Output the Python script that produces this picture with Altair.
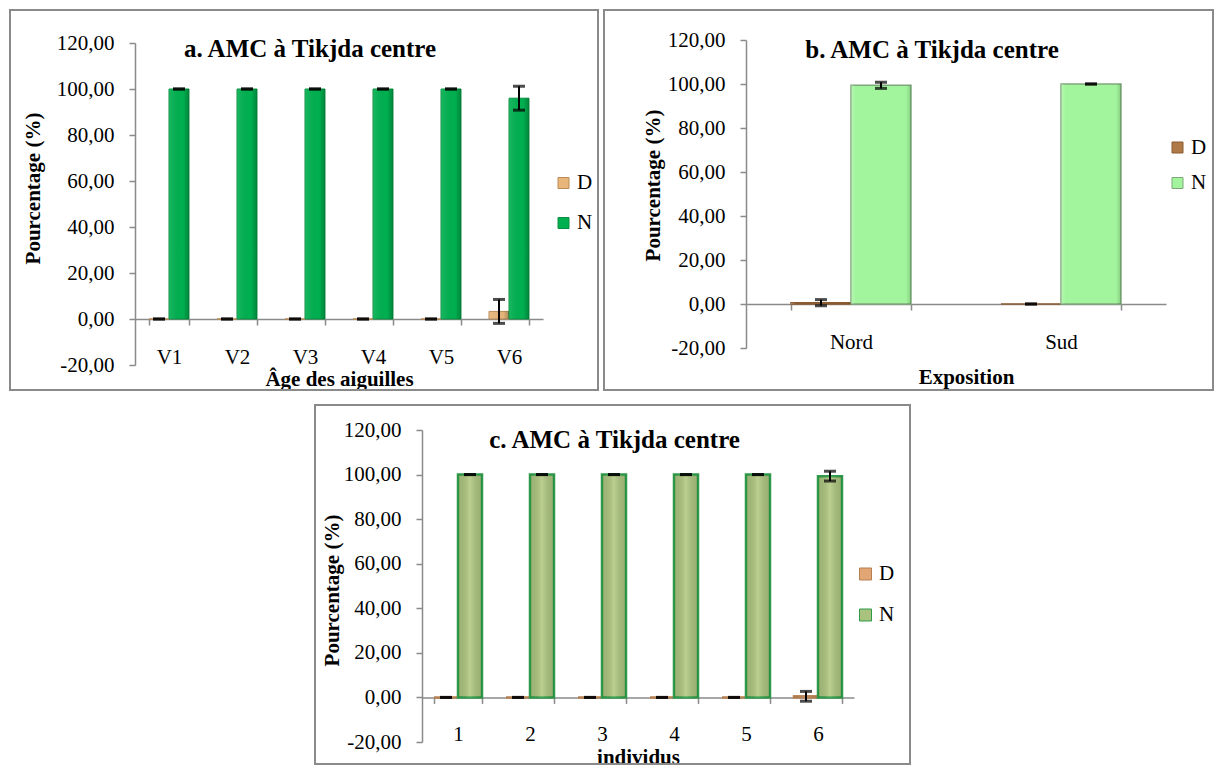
import altair as alt
import pandas as pd

FONT = "Liberation Serif"
GRAY = "#8a8a8a"
SERIES = ["D", "N"]
TICKS_Y = [-20, 0, 20, 40, 60, 80, 100, 120]

# ---- panel a : age of needles
cats_a = ["V1", "V2", "V3", "V4", "V5", "V6"]
d_a = [0, 0, 0, 0, 0, 3.3]
d_a_err = [0, 0, 0, 0, 0, 5.2]
n_a = [100, 100, 100, 100, 100, 96.0]
n_a_err = [0, 0, 0, 0, 0, 5.2]

# ---- panel b : exposition
cats_b = ["Nord", "Sud"]
d_b = [0.6, 0]
d_b_err = [1.4, 0]
n_b = [99.4, 100]
n_b_err = [1.4, 0]

# ---- panel c : individuals
cats_c = ["1", "2", "3", "4", "5", "6"]
d_c = [0, 0, 0, 0, 0, 0.5]
d_c_err = [0, 0, 0, 0, 0, 2.2]
n_c = [100, 100, 100, 100, 100, 99.3]
n_c_err = [0, 0, 0, 0, 0, 2.2]

TITLE = "AMC à Tikjda centre"
LABEL_EXPR = "(datum.value < 0 ? '-' : '') + replace(format(abs(datum.value), '.2f'), '.', ',')"


def long_df(key, cats, d, de, n, ne):
    rows = []
    for i, c in enumerate(cats):
        rows.append({"cat" + key: c, "s" + key: "D", "value": d[i], "err": de[i]})
        rows.append({"cat" + key: c, "s" + key: "N", "value": n[i], "err": ne[i]})
    df = pd.DataFrame(rows)
    df["lo"] = df["value"] - df["err"]
    df["hi"] = df["value"] + df["err"]
    return df


def panel(key, cats, df, W, Hg, ytop, L, T, R, B, pin, title, tx, ty, xtitle, xtx, xty,
          ytx, yty, lx, ly, rowpad, symsize, fills, strokes, sw, grad, lpad=21, extra=0):
    off = -(Hg - ytop) / 7.0
    catf = "cat" + key + ":N"
    serf = "s" + key + ":N"
    x = alt.X(catf, sort=cats,
              scale=alt.Scale(domain=cats, paddingInner=pin, paddingOuter=pin / 2),
              axis=alt.Axis(title=xtitle, orient="bottom", offset=off,
                            tickBand="extent", labelAngle=0, grid=False,
                            labelFont=FONT, labelFontSize=21, labelColor="black",
                            labelPadding=lpad, tickSize=6, tickColor=GRAY, tickWidth=1.5,
                            domainColor=GRAY, domainWidth=1.5,
                            titleFont=FONT, titleFontSize=21, titleFontWeight="bold",
                            titleColor="black", titleX=xtx, titleY=xty,
                            titleBaseline="alphabetic"))
    xo = alt.XOffset(serf, scale=alt.Scale(domain=SERIES, paddingInner=0, paddingOuter=0))
    if ytop != 0:
        yscale = alt.Scale(domain=[-20, 120], nice=False, zero=False, range=[Hg, ytop])
    else:
        yscale = alt.Scale(domain=[-20, 120], nice=False, zero=False)
    yaxis = alt.Axis(values=TICKS_Y, labelExpr=LABEL_EXPR, grid=False,
                     title="Pourcentage (%)", labelFont=FONT, labelFontSize=21,
                     labelColor="black", labelPadding=15, tickSize=6, tickColor=GRAY,
                     tickWidth=1.5, domainColor=GRAY, domainWidth=1.5,
                     titleFont=FONT, titleFontSize=21, titleFontWeight="bold",
                     titleColor="black", titleX=ytx, titleY=yty, titleBaseline="middle")

    def Y(field):
        return alt.Y(field, stack=False, scale=yscale, axis=yaxis)

    leg = alt.Legend(title=None, orient="none", legendX=lx, legendY=ly,
                     symbolType="square", symbolSize=symsize, symbolStrokeWidth=1,
                     labelFont=FONT, labelFontSize=21, labelColor="black",
                     rowPadding=rowpad, labelOffset=3, padding=0)

    frame = alt.Chart(pd.DataFrame({"k": [0]})).mark_rect(
        fill="white", fillOpacity=0, stroke=GRAY, strokeWidth=2
    ).encode(x=alt.value(-L), x2=alt.value(W + R), y=alt.value(-T), y2=alt.value(Hg + B))

    layers = [frame]
    if extra:
        pad = alt.Chart(pd.DataFrame({"k": [0]})).mark_rect(
            fill="white", fillOpacity=0, strokeWidth=0
        ).encode(x=alt.value(W + R), x2=alt.value(W + R + extra), y=alt.value(0), y2=alt.value(2))
        layers.append(pad)

    bars = alt.Chart(df).mark_bar(strokeWidth=sw).encode(
        x=x, xOffset=xo, y=Y("value:Q"),
        color=alt.Color(serf, scale=alt.Scale(domain=SERIES, range=fills), legend=leg),
        stroke=alt.Stroke(serf, scale=alt.Scale(domain=SERIES, range=strokes), legend=leg),
    )
    sheen = alt.Chart(df).mark_bar(
        strokeWidth=0,
        color=alt.Gradient(gradient="linear", x1=0, x2=1, y1=0, y2=0,
                           stops=[alt.GradientStop(color=c, offset=o) for o, c in grad]),
    ).encode(x=x, xOffset=xo, y=Y("value:Q"))

    rule = alt.Chart(df).mark_rule(color="black", strokeWidth=2).encode(
        x=x, xOffset=xo, y=Y("lo:Q"), y2="hi:Q")
    cap_lo = alt.Chart(df).mark_tick(color="black", size=12, thickness=3).encode(
        x=x, xOffset=xo, y=Y("lo:Q"))
    cap_hi = alt.Chart(df).mark_tick(color="black", size=12, thickness=3).encode(
        x=x, xOffset=xo, y=Y("hi:Q"))

    ttl = alt.Chart(pd.DataFrame({"t": [title]})).mark_text(
        font=FONT, fontSize=25, fontWeight="bold", color="black",
        align="center", baseline="alphabetic"
    ).encode(x=alt.value(tx), y=alt.value(ty), text="t:N")

    layers += [bars, sheen, rule, cap_lo, cap_hi, ttl]
    return alt.layer(*layers).properties(width=W, height=Hg)


pa = panel("a", cats_a, long_df("a", cats_a, d_a, d_a_err, n_a, n_a_err),
           W=408, Hg=322, ytop=0, L=125, T=33, R=55, B=25, pin=0.412,
           title="a. " + TITLE, tx=175, ty=14,
           xtitle="Âge des aiguilles", xtx=204, xty=66,
           ytx=-102, yty=145, lx=418, ly=129.5, rowpad=18, symsize=121,
           fills=["#e8b67a", "#00b050"], strokes=["#b98a55", "#0a8f40"], sw=1,
           grad=[(0, "rgba(255,255,255,0.10)"), (0.7, "rgba(0,0,0,0)"), (1, "rgba(0,40,10,0.28)")])

pb = panel("b", cats_b, long_df("b", cats_b, d_b, d_b_err, n_b, n_b_err),
           W=420, Hg=305, ytop=-3, L=142, T=33, R=47, B=42, pin=0.4286,
           title="b. " + TITLE, tx=186, ty=15,
           xtitle="Exposition", xtx=220, xty=79,
           ytx=-93, yty=142, lx=421, ly=94, rowpad=13.5, symsize=121,
           fills=["#b07a48", "#a2f59c"], strokes=["#8a5a30", "#7fa87a"], sw=1.5,
           grad=[(0, "rgba(255,255,255,0.25)"), (0.08, "rgba(255,255,255,0)"),
                 (0.92, "rgba(0,0,0,0)"), (1, "rgba(0,40,0,0.18)")])

pc = panel("c", cats_c, long_df("c", cats_c, d_c, d_c_err, n_c, n_c_err),
           W=432, Hg=312, ytop=0, L=107, T=25, R=56, B=22, pin=0.3333,
           title="c. " + TITLE, tx=192.6, ty=18,
           xtitle="individus", xtx=216, xty=65.6,
           ytx=-89.5, yty=160, lx=433, ly=133.5, rowpad=19, symsize=144,
           fills=["#e2a574", "#a9c27e"], strokes=["#b78052", "#2f9a4a"], sw=2.5,
           grad=[(0, "rgba(0,0,0,0.06)"), (0.5, "rgba(255,255,210,0.22)"), (1, "rgba(0,0,0,0.08)")],
           lpad=20, extra=17)

top = alt.hconcat(pa, pb, spacing=4).resolve_scale(
    color="independent", stroke="independent", xOffset="independent"
).resolve_legend(color="independent", stroke="independent")

chart = alt.vconcat(
    top,
    pc,
    spacing=13,
    center=True,
).resolve_scale(
    color="independent", stroke="independent", xOffset="independent"
).resolve_legend(
    color="independent", stroke="independent"
).properties(padding=1).configure(font=FONT).configure_view(strokeWidth=0).configure_axis(
    labelFont=FONT, titleFont=FONT).configure_legend(labelFont=FONT)

chart.save("out.html", embed_options={"renderer": "svg", "actions": False})
